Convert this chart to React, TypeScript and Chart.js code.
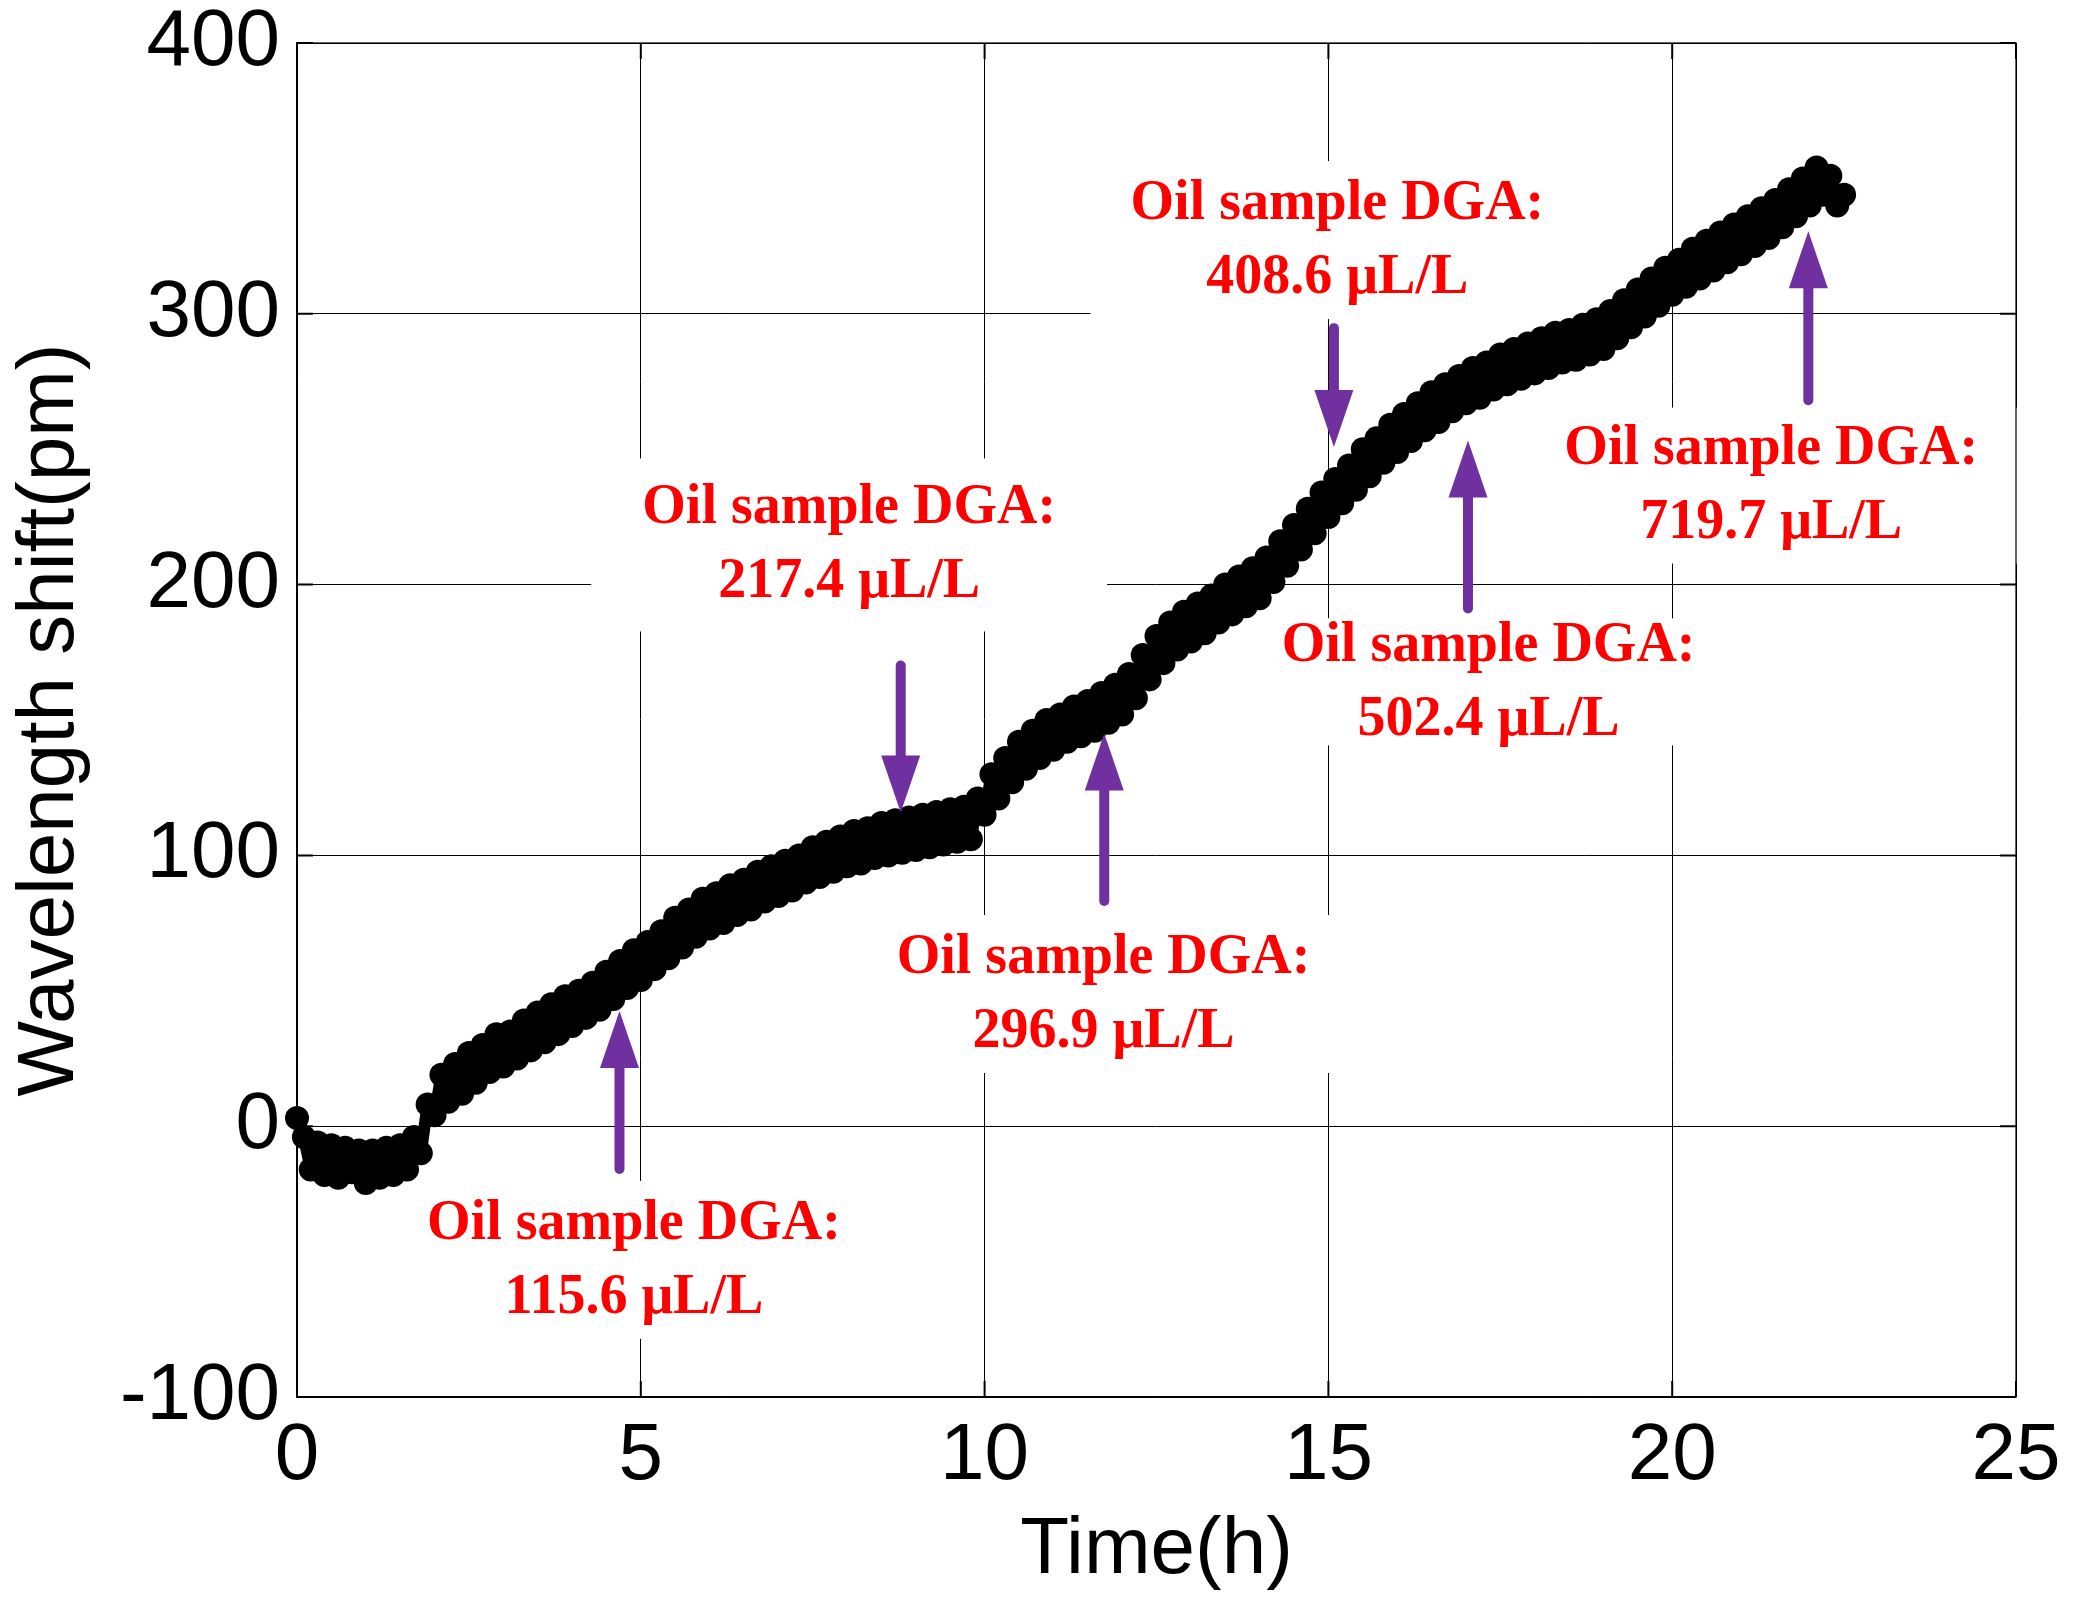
import React, { useEffect, useRef } from 'react';
import { Chart, registerables } from 'chart.js';

Chart.register(...registerables);

// ---- data ----
const SAMPLE_STEP_H = 0.1; // sampling interval of the series, hours (t = 0.0 … 22.5)

const wavelengthShiftPm = [
  3, -4, -16, -6, -18, -7, -19, -8, -17, -9,
  -21, -9, -19, -8, -18, -7, -16, -4, -10, 8,
  4, 19, 9, 23, 12, 27, 16, 30, 20, 34,
  22, 35, 25, 39, 28, 42, 31, 45, 34, 48,
  37, 50, 40, 53, 43, 57, 47, 61, 51, 65,
  54, 68, 58, 72, 62, 77, 66, 80, 70, 84,
  73, 86, 75, 89, 78, 91, 80, 94, 83, 96,
  85, 98, 87, 100, 90, 103, 92, 105, 94, 107,
  96, 109, 97, 110, 99, 112, 100, 113, 101, 114,
  102, 115, 103, 116, 104, 117, 105, 118, 106, 121,
  115, 130, 121, 136, 127, 142, 132, 146, 136, 150,
  139, 152, 142, 155, 144, 157, 146, 160, 149, 163,
  152, 167, 158, 174, 165, 181, 171, 186, 176, 190,
  179, 193, 182, 196, 186, 200, 189, 203, 192, 206,
  195, 210, 201, 216, 207, 222, 213, 228, 219, 234,
  225, 239, 230, 244, 235, 250, 240, 254, 245, 259,
  249, 263, 253, 267, 257, 271, 260, 274, 264, 277,
  267, 280, 269, 282, 272, 285, 274, 287, 276, 289,
  278, 291, 280, 293, 282, 294, 283, 296, 285, 298,
  287, 301, 291, 305, 295, 309, 299, 313, 303, 317,
  307, 320, 310, 324, 313, 327, 316, 330, 319, 333,
  322, 336, 325, 339, 328, 342, 332, 346, 336, 350,
  340, 354, 344, 351, 340, 344,
];

const X_MIN = 0, X_MAX = 25, X_STEP = 5;
const Y_MIN = -100, Y_MAX = 400, Y_STEP = 100;

const annotationHeader = 'Oil sample DGA:';
const annotationValue = ['115.6 μL/L', '217.4 μL/L', '296.9 μL/L', '408.6 μL/L', '502.4 μL/L', '719.7 μL/L'];
const annotationX = [4.9, 8.03, 11.73, 15.13, 17.33, 21.44];
const annotationY = [-34.6, 229.6, 63.6, 342, 178.7, 251.7];

const arrowX = [4.69, 8.78, 11.74, 15.08, 17.03, 21.98];
const arrowTail = [-15.8, 170.1, 83.2, 294.7, 191.2, 268.1];
const arrowTip = [42.5, 115.8, 145, 250.8, 253.2, 330.5];

// ---- styling ----
const W = 2073;
const H = 1615;
const SANS = '"Liberation Sans", Arial, Helvetica, sans-serif';
const LABEL_FONT = 'bold 56px "Liberation Serif", "Times New Roman", serif';
const CAP = 38;
const LINE_GAP = 74;
const BOX_PAD: number[][] = [
  [20, 26, 40],
  [27, 34, 51],
  [20, 26, 40],
  [20, 26, 40],
  [5, 10, 20],
  [18, 26, 40],
];
const ARROW_COLOR = '#7030A0';

const overlayPlugin = {
  id: 'overlay',
  beforeDatasetsDraw(chart: any) {
    const { ctx, scales } = chart;
    const x = scales.x, y = scales.y;
    ctx.save();
    ctx.font = LABEL_FONT;
    ctx.fillStyle = '#ffffff';
    annotationX.forEach((t, i) => {
      const cx = x.getPixelForValue(t);
      const midY = y.getPixelForValue(annotationY[i]);
      const w = Math.max(ctx.measureText(annotationHeader).width, ctx.measureText(annotationValue[i]).width);
      const [pt, pb, ps] = BOX_PAD[i];
      const top = midY - CAP / 2 - pt;
      const bottom = midY + CAP / 2 + LINE_GAP + pb;
      ctx.fillRect(cx - w / 2 - ps, top, w + 2 * ps, bottom - top);
    });
    ctx.restore();
  },
  afterDatasetsDraw(chart: any) {
    const { ctx, chartArea, scales } = chart;
    const x = scales.x, y = scales.y;
    const { left, right, top, bottom } = chartArea;
    ctx.save();
    // axes box
    ctx.strokeStyle = '#000';
    ctx.lineWidth = 1.2;
    ctx.strokeRect(left, top, right - left, bottom - top);
    // inward tick marks on all four sides
    const tl = 16;
    ctx.lineWidth = 2;
    ctx.beginPath();
    x.ticks.forEach((tk: any) => {
      const px = x.getPixelForValue(tk.value);
      ctx.moveTo(px, bottom); ctx.lineTo(px, bottom - tl);
      ctx.moveTo(px, top); ctx.lineTo(px, top + tl);
    });
    y.ticks.forEach((tk: any) => {
      const py = y.getPixelForValue(tk.value);
      ctx.moveTo(left, py); ctx.lineTo(left + tl, py);
      ctx.moveTo(right, py); ctx.lineTo(right - tl, py);
    });
    ctx.stroke();

    // annotation texts
    ctx.font = LABEL_FONT;
    ctx.fillStyle = '#ff0000';
    ctx.textAlign = 'center';
    ctx.textBaseline = 'alphabetic';
    annotationX.forEach((t, i) => {
      const cx = x.getPixelForValue(t);
      const midY = y.getPixelForValue(annotationY[i]);
      ctx.fillText(annotationHeader, cx, midY + CAP / 2);
      ctx.fillText(annotationValue[i], cx, midY + CAP / 2 + LINE_GAP);
    });

    // arrows
    ctx.strokeStyle = ARROW_COLOR;
    ctx.fillStyle = ARROW_COLOR;
    const headLen = 57;
    const headHalf = 19.5;
    arrowX.forEach((t, i) => {
      const px = x.getPixelForValue(t);
      const yTail = y.getPixelForValue(arrowTail[i]);
      const yTip = y.getPixelForValue(arrowTip[i]);
      const dir = yTip < yTail ? -1 : 1;
      const baseY = yTip - dir * headLen;
      ctx.lineWidth = 10;
      ctx.lineCap = 'round';
      ctx.beginPath();
      ctx.moveTo(px, yTail);
      ctx.lineTo(px, baseY);
      ctx.stroke();
      ctx.beginPath();
      ctx.moveTo(px - headHalf, baseY);
      ctx.lineTo(px + headHalf, baseY);
      ctx.lineTo(px, yTip);
      ctx.closePath();
      ctx.fill();
    });
    ctx.restore();
  },
};

export default function App() {
  const canvasRef = useRef<HTMLCanvasElement | null>(null);

  useEffect(() => {
    const canvas = canvasRef.current;
    if (!canvas) return;
    const points = wavelengthShiftPm.map((v, i) => ({ x: Math.round(i * SAMPLE_STEP_H * 10) / 10, y: v }));
    const chart = new Chart(canvas, {
      type: 'scatter',
      data: {
        datasets: [
          {
            data: points,
            showLine: true,
            borderColor: '#000',
            borderWidth: 12,
            borderJoinStyle: 'round',
            borderCapStyle: 'round',
            pointRadius: 12,
            pointBorderWidth: 0,
            pointBackgroundColor: '#000',
            backgroundColor: '#000',
            clip: 20,
          } as any,
        ],
      },
      options: {
        animation: false,
        responsive: false,
        devicePixelRatio: 1,
        events: [],
        layout: { padding: { left: 0, right: 57, top: 43, bottom: 0 } },
        plugins: { legend: { display: false }, tooltip: { enabled: false } },
        scales: {
          x: {
            type: 'linear',
            min: X_MIN,
            max: X_MAX,
            ticks: {
              stepSize: X_STEP,
              color: '#000',
              padding: 20,
              maxRotation: 0,
              font: { family: SANS, size: 80, lineHeight: 1 },
            },
            grid: { color: '#000', lineWidth: 1, drawTicks: false },
            border: { color: '#000', width: 1.2 },
            title: {
              display: true,
              text: 'Time(h)',
              color: '#000',
              font: { family: SANS, size: 80, lineHeight: 1 },
              padding: { top: 0, bottom: 24 },
            },
            afterFit: (s: any) => {
              s.height = 218;
              s.paddingLeft = 0;
              s.paddingRight = 0;
            },
          },
          y: {
            type: 'linear',
            min: Y_MIN,
            max: Y_MAX,
            ticks: {
              stepSize: Y_STEP,
              color: '#000',
              padding: 17,
              font: { family: SANS, size: 80, lineHeight: 1 },
            },
            grid: { color: '#000', lineWidth: 1, drawTicks: false },
            border: { color: '#000', width: 1.2 },
            title: {
              display: true,
              text: 'Wavelength shift(pm)',
              color: '#000',
              font: { family: SANS, size: 80, lineHeight: 1 },
              padding: { top: 11, bottom: 0 },
            },
            afterFit: (s: any) => {
              s.width = 297;
              s.paddingTop = 0;
              s.paddingBottom = 0;
            },
          },
        },
      } as any,
      plugins: [overlayPlugin],
    });
    return () => chart.destroy();
  }, []);

  return (
    <div style={{ position: 'fixed', left: 0, top: 0, width: W, height: H, background: '#fff' }}>
      <canvas ref={canvasRef} width={W} height={H} style={{ width: W, height: H, display: 'block' }} />
    </div>
  );
}
